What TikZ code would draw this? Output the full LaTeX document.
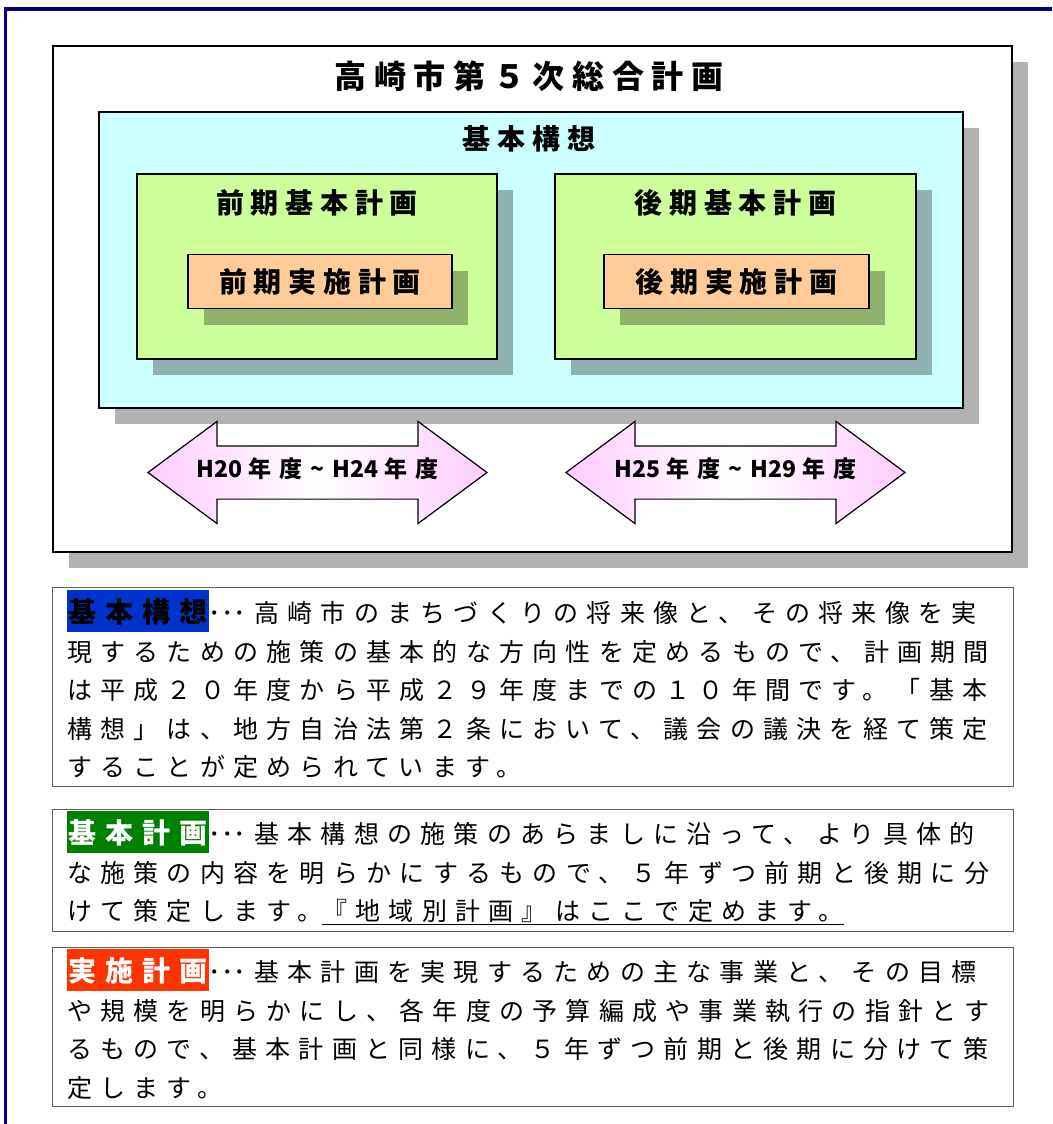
\documentclass[tikz,border=0pt]{standalone}
\usepackage{fontspec}
\usetikzlibrary{positioning, shapes.arrows, shadows}

\newfontfamily\jpplain{Noto Sans CJK JP}
\newfontfamily\jpbody[LetterSpace=33]{Noto Sans CJK JP}
\newfontfamily\jplabel[LetterSpace=24]{Noto Sans CJK JP}

\definecolor{navyframe}{HTML}{000080}
\definecolor{visioncyan}{HTML}{CCFFFF}
\definecolor{basicgreen}{HTML}{CCFF99}
\definecolor{implorange}{HTML}{FFCC99}
\definecolor{arrowpink}{HTML}{FFCCFF}
\definecolor{boxgray}{HTML}{606060}
\definecolor{hiblue}{HTML}{0033CC}
\definecolor{higreen}{HTML}{008000}
\definecolor{hired}{HTML}{FF3300}

% coloured keyword at the start of each description
\newcommand{\hilite}[3]{{\setlength{\fboxsep}{1pt}%
    \colorbox{#1}{\rule[-8.5pt]{0pt}{40pt}\fontsize{28}{28}\selectfont\bfseries\color{#2}#3}}%
    {\jpplain ･･･}\hspace{8pt}}

\begin{document}
\begin{tikzpicture}[
    x=1pt, y=-1pt,
    every node/.style={inner sep=0pt},
    panel/.style={draw=black, line width=1.6pt,
        drop shadow={shadow xshift=16pt, shadow yshift=-16pt, fill=black, opacity=0.3}},
    maintitle/.style={font=\fontsize{32}{32}\selectfont\jplabel\bfseries},
    heading/.style={font=\fontsize{28}{28}\selectfont\jplabel\bfseries},
    period/.style={double arrow, draw=black, line width=1.2pt,
        left color=arrowpink, right color=arrowpink, middle color=white,
        minimum height=339pt, minimum width=101pt,
        double arrow head extend=24.5pt, double arrow tip angle=73,
        text height=16pt, text depth=6pt, inner xsep=0pt, inner ysep=15pt,
        font=\fontsize{23}{23}\selectfont\jpplain\bfseries},
    textbox/.style={draw=boxgray, line width=1.2pt, anchor=north west},
    bodytext/.style={anchor=north west, align=left,
        font=\fontsize{25}{38.5}\selectfont\jpbody}
]
    \useasboundingbox (0,0) rectangle (1052,1124);

    % outer page frame (left and top only)
    \draw[navyframe, line width=3.5pt] (5.5,1124) -- (5.5,9) -- (1052,9);

    % the whole plan
    \node[panel, fill=white, minimum width=959pt, minimum height=506pt] (plan) at (532.5,299) {};
    \node[maintitle] (plantitle) at (529,76) {高崎市第５次総合計画};

    % basic vision
    \node[panel, fill=visioncyan, minimum width=864pt, minimum height=296pt] (vision) at (531,260) {};
    \node[heading] (visiontitle) at (529,139) {基本構想};

    % basic plans, early and late
    \node[panel, fill=basicgreen, minimum width=360pt, minimum height=185pt] (earlybasic) at (317,266.5) {};
    \node[heading] (earlybasictitle) at (317,203) {前期基本計画};
    \node[panel, fill=basicgreen, minimum width=361pt, minimum height=185pt] (latebasic) at (735.5,266.5) {};
    \node[heading] (latebasictitle) at (735.5,203) {後期基本計画};

    % implementation plans
    \node[panel, fill=implorange, minimum width=264pt, minimum height=54pt, heading] (earlyimpl) at (320,281.5) {前期実施計画};
    \node[panel, fill=implorange, minimum width=265pt, minimum height=54pt, heading] (lateimpl) at (736.5,281.5) {後期実施計画};

    % periods
    \node[period] (earlyperiod) at (317.5,472.5)
        {H20\hspace{6pt}年\hspace{8pt}度\hspace{8pt}\textasciitilde\hspace{8pt}H24\hspace{6pt}年\hspace{8pt}度};
    \node[period] (lateperiod) at (735.5,472.5)
        {H25\hspace{6pt}年\hspace{8pt}度\hspace{8pt}\textasciitilde\hspace{8pt}H29\hspace{6pt}年\hspace{8pt}度};

    % descriptions
    \node[textbox, minimum width=961pt, minimum height=199pt] (visionbox) at (52,587) {};
    \node[bodytext] (visiontext) at (67,590)
        {\hilite{hiblue}{black}{基本構想}高崎市のまちづくりの将来像と、その将来像を実\\
         現するための施策の基本的な方向性を定めるもので、計画期間\\
         は平成２０年度から平成２９年度までの１０年間です。「基本\\
         構想」は、地方自治法第２条において、議会の議決を経て策定\\
         することが定められています。};

    \node[textbox, minimum width=961pt, minimum height=122pt] (basicbox) at (52,809) {};
    \node[bodytext] (basictext) at (67,811)
        {\hilite{higreen}{white}{基本計画}基本構想の施策のあらましに沿って、より具体的\\
         な施策の内容を明らかにするもので、５年ずつ前期と後期に分\\
         けて策定します。\underline{『地域別計画』はここで定めます。}};

    \node[textbox, minimum width=961pt, minimum height=159pt] (implbox) at (52,947) {};
    \node[bodytext] (impltext) at (67,949)
        {\hilite{hired}{white}{実施計画}基本計画を実現するための主な事業と、その目標\\
         や規模を明らかにし、各年度の予算編成や事業執行の指針とす\\
         るもので、基本計画と同様に、５年ずつ前期と後期に分けて策\\
         定します。};
\end{tikzpicture}
\end{document}
